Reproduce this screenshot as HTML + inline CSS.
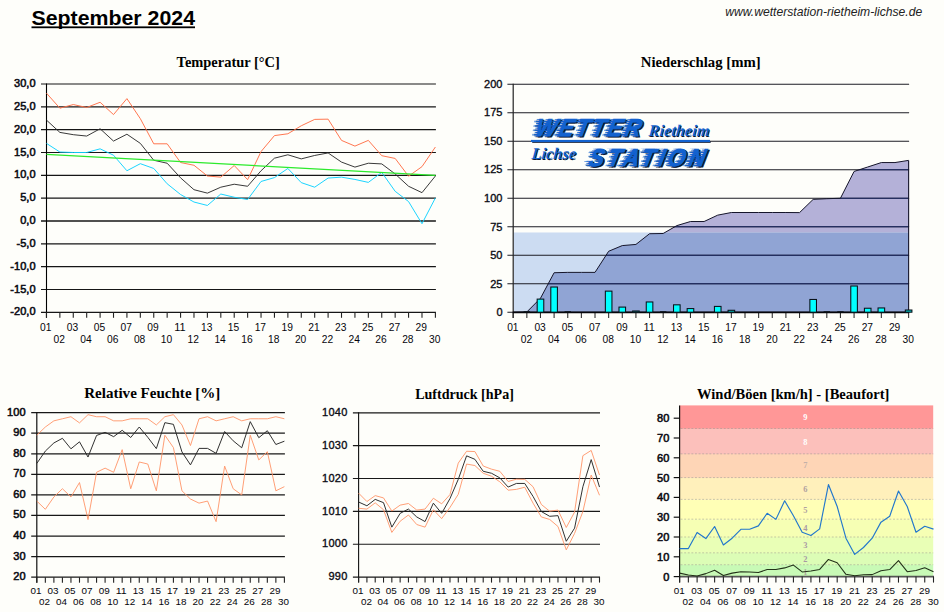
<!DOCTYPE html>
<html><head><meta charset="utf-8"><title>September 2024</title>
<style>html,body{margin:0;padding:0;background:#fefefa;overflow:hidden}svg{display:block}text{font-kerning:normal}</style>
</head><body>
<svg width="944" height="612" viewBox="0 0 944 612">
<rect width="944" height="612" fill="#fefefa"/>
<text x="31.5" y="24.5" font-family="'Liberation Sans', sans-serif" font-size="21" font-weight="bold" font-style="normal" text-anchor="start" fill="#000" textLength="163.5" lengthAdjust="spacingAndGlyphs" >September 2024</text>
<rect x="31.5" y="26.4" width="163.5" height="1.8" fill="#000"/>
<text x="725.2" y="15.6" font-family="'Liberation Sans', sans-serif" font-size="12" font-weight="normal" font-style="italic" text-anchor="start" fill="#222" textLength="197" lengthAdjust="spacingAndGlyphs" >www.wetterstation-rietheim-lichse.de</text>
<text x="176.6" y="66.9" font-family="'Liberation Serif', sans-serif" font-size="15.5" font-weight="bold" font-style="normal" text-anchor="start" fill="#000" textLength="103.2" lengthAdjust="spacingAndGlyphs" >Temperatur [°C]</text>
<text x="640.8" y="66.9" font-family="'Liberation Serif', sans-serif" font-size="15.5" font-weight="bold" font-style="normal" text-anchor="start" fill="#000" textLength="119.8" lengthAdjust="spacingAndGlyphs" >Niederschlag [mm]</text>
<text x="84.2" y="398.4" font-family="'Liberation Serif', sans-serif" font-size="15.5" font-weight="bold" font-style="normal" text-anchor="start" fill="#000" textLength="136.2" lengthAdjust="spacingAndGlyphs" >Relative Feuchte [%]</text>
<text x="415.2" y="399.2" font-family="'Liberation Serif', sans-serif" font-size="15.5" font-weight="bold" font-style="normal" text-anchor="start" fill="#000" textLength="98.7" lengthAdjust="spacingAndGlyphs" >Luftdruck [hPa]</text>
<text x="697" y="399.2" font-family="'Liberation Serif', sans-serif" font-size="15.5" font-weight="bold" font-style="normal" text-anchor="start" fill="#000" textLength="192.4" lengthAdjust="spacingAndGlyphs" >Wind/Böen [km/h] - [Beaufort]</text>
<line x1="41" y1="84" x2="435.9" y2="84" stroke="#161616" stroke-width="1.15"/>
<text x="35.6" y="87.1" font-family="'Liberation Sans', sans-serif" font-size="11" font-weight="normal" font-style="normal" text-anchor="end" fill="#0c0c14" stroke="#0c0c14" stroke-width="0.55" style="letter-spacing:0.05px">30,0</text>
<line x1="41" y1="106.83" x2="435.9" y2="106.83" stroke="#161616" stroke-width="1.15"/>
<text x="35.6" y="109.93" font-family="'Liberation Sans', sans-serif" font-size="11" font-weight="normal" font-style="normal" text-anchor="end" fill="#0c0c14" stroke="#0c0c14" stroke-width="0.55" style="letter-spacing:0.05px">25,0</text>
<line x1="41" y1="129.66" x2="435.9" y2="129.66" stroke="#161616" stroke-width="1.15"/>
<text x="35.6" y="132.76" font-family="'Liberation Sans', sans-serif" font-size="11" font-weight="normal" font-style="normal" text-anchor="end" fill="#0c0c14" stroke="#0c0c14" stroke-width="0.55" style="letter-spacing:0.05px">20,0</text>
<line x1="41" y1="152.49" x2="435.9" y2="152.49" stroke="#161616" stroke-width="1.15"/>
<text x="35.6" y="155.59" font-family="'Liberation Sans', sans-serif" font-size="11" font-weight="normal" font-style="normal" text-anchor="end" fill="#0c0c14" stroke="#0c0c14" stroke-width="0.55" style="letter-spacing:0.05px">15,0</text>
<line x1="41" y1="175.32" x2="435.9" y2="175.32" stroke="#161616" stroke-width="1.15"/>
<text x="35.6" y="178.42" font-family="'Liberation Sans', sans-serif" font-size="11" font-weight="normal" font-style="normal" text-anchor="end" fill="#0c0c14" stroke="#0c0c14" stroke-width="0.55" style="letter-spacing:0.05px">10,0</text>
<line x1="41" y1="198.15" x2="435.9" y2="198.15" stroke="#161616" stroke-width="1.15"/>
<text x="35.6" y="201.25" font-family="'Liberation Sans', sans-serif" font-size="11" font-weight="normal" font-style="normal" text-anchor="end" fill="#0c0c14" stroke="#0c0c14" stroke-width="0.55" style="letter-spacing:0.05px">5,0</text>
<line x1="41" y1="220.98" x2="435.9" y2="220.98" stroke="#161616" stroke-width="1.6"/>
<text x="35.6" y="224.08" font-family="'Liberation Sans', sans-serif" font-size="11" font-weight="normal" font-style="normal" text-anchor="end" fill="#0c0c14" stroke="#0c0c14" stroke-width="0.55" style="letter-spacing:0.05px">0,0</text>
<line x1="41" y1="243.81" x2="435.9" y2="243.81" stroke="#161616" stroke-width="1.15"/>
<text x="35.6" y="246.91" font-family="'Liberation Sans', sans-serif" font-size="11" font-weight="normal" font-style="normal" text-anchor="end" fill="#0c0c14" stroke="#0c0c14" stroke-width="0.55" style="letter-spacing:0.05px">-5,0</text>
<line x1="41" y1="266.64" x2="435.9" y2="266.64" stroke="#161616" stroke-width="1.15"/>
<text x="35.6" y="269.74" font-family="'Liberation Sans', sans-serif" font-size="11" font-weight="normal" font-style="normal" text-anchor="end" fill="#0c0c14" stroke="#0c0c14" stroke-width="0.55" style="letter-spacing:0.05px">-10,0</text>
<line x1="41" y1="289.47" x2="435.9" y2="289.47" stroke="#161616" stroke-width="1.15"/>
<text x="35.6" y="292.57" font-family="'Liberation Sans', sans-serif" font-size="11" font-weight="normal" font-style="normal" text-anchor="end" fill="#0c0c14" stroke="#0c0c14" stroke-width="0.55" style="letter-spacing:0.05px">-15,0</text>
<line x1="41" y1="312.3" x2="435.9" y2="312.3" stroke="#161616" stroke-width="1.15"/>
<text x="35.6" y="315.4" font-family="'Liberation Sans', sans-serif" font-size="11" font-weight="normal" font-style="normal" text-anchor="end" fill="#0c0c14" stroke="#0c0c14" stroke-width="0.55" style="letter-spacing:0.05px">-20,0</text>
<line x1="46.5" y1="83.5" x2="46.5" y2="317.8" stroke="#000" stroke-width="1.1"/>
<line x1="46.45" y1="312.3" x2="46.45" y2="317.8" stroke="#222" stroke-width="1.1"/>
<line x1="59.86" y1="312.3" x2="59.86" y2="317.8" stroke="#222" stroke-width="1.1"/>
<line x1="73.27" y1="312.3" x2="73.27" y2="317.8" stroke="#222" stroke-width="1.1"/>
<line x1="86.69" y1="312.3" x2="86.69" y2="317.8" stroke="#222" stroke-width="1.1"/>
<line x1="100.1" y1="312.3" x2="100.1" y2="317.8" stroke="#222" stroke-width="1.1"/>
<line x1="113.51" y1="312.3" x2="113.51" y2="317.8" stroke="#222" stroke-width="1.1"/>
<line x1="126.92" y1="312.3" x2="126.92" y2="317.8" stroke="#222" stroke-width="1.1"/>
<line x1="140.33" y1="312.3" x2="140.33" y2="317.8" stroke="#222" stroke-width="1.1"/>
<line x1="153.75" y1="312.3" x2="153.75" y2="317.8" stroke="#222" stroke-width="1.1"/>
<line x1="167.16" y1="312.3" x2="167.16" y2="317.8" stroke="#222" stroke-width="1.1"/>
<line x1="180.57" y1="312.3" x2="180.57" y2="317.8" stroke="#222" stroke-width="1.1"/>
<line x1="193.98" y1="312.3" x2="193.98" y2="317.8" stroke="#222" stroke-width="1.1"/>
<line x1="207.39" y1="312.3" x2="207.39" y2="317.8" stroke="#222" stroke-width="1.1"/>
<line x1="220.81" y1="312.3" x2="220.81" y2="317.8" stroke="#222" stroke-width="1.1"/>
<line x1="234.22" y1="312.3" x2="234.22" y2="317.8" stroke="#222" stroke-width="1.1"/>
<line x1="247.63" y1="312.3" x2="247.63" y2="317.8" stroke="#222" stroke-width="1.1"/>
<line x1="261.04" y1="312.3" x2="261.04" y2="317.8" stroke="#222" stroke-width="1.1"/>
<line x1="274.45" y1="312.3" x2="274.45" y2="317.8" stroke="#222" stroke-width="1.1"/>
<line x1="287.87" y1="312.3" x2="287.87" y2="317.8" stroke="#222" stroke-width="1.1"/>
<line x1="301.28" y1="312.3" x2="301.28" y2="317.8" stroke="#222" stroke-width="1.1"/>
<line x1="314.69" y1="312.3" x2="314.69" y2="317.8" stroke="#222" stroke-width="1.1"/>
<line x1="328.1" y1="312.3" x2="328.1" y2="317.8" stroke="#222" stroke-width="1.1"/>
<line x1="341.51" y1="312.3" x2="341.51" y2="317.8" stroke="#222" stroke-width="1.1"/>
<line x1="354.93" y1="312.3" x2="354.93" y2="317.8" stroke="#222" stroke-width="1.1"/>
<line x1="368.34" y1="312.3" x2="368.34" y2="317.8" stroke="#222" stroke-width="1.1"/>
<line x1="381.75" y1="312.3" x2="381.75" y2="317.8" stroke="#222" stroke-width="1.1"/>
<line x1="395.16" y1="312.3" x2="395.16" y2="317.8" stroke="#222" stroke-width="1.1"/>
<line x1="408.57" y1="312.3" x2="408.57" y2="317.8" stroke="#222" stroke-width="1.1"/>
<line x1="421.99" y1="312.3" x2="421.99" y2="317.8" stroke="#222" stroke-width="1.1"/>
<line x1="435.4" y1="312.3" x2="435.4" y2="317.8" stroke="#222" stroke-width="1.1"/>
<text x="45.75" y="331" font-family="'Liberation Sans', sans-serif" font-size="11" font-weight="normal" font-style="normal" text-anchor="middle" fill="#05050c" textLength="11.4" lengthAdjust="spacingAndGlyphs" >01</text>
<text x="59.16" y="343.3" font-family="'Liberation Sans', sans-serif" font-size="11" font-weight="normal" font-style="normal" text-anchor="middle" fill="#05050c" textLength="11.4" lengthAdjust="spacingAndGlyphs" >02</text>
<text x="72.57" y="331" font-family="'Liberation Sans', sans-serif" font-size="11" font-weight="normal" font-style="normal" text-anchor="middle" fill="#05050c" textLength="11.4" lengthAdjust="spacingAndGlyphs" >03</text>
<text x="85.99" y="343.3" font-family="'Liberation Sans', sans-serif" font-size="11" font-weight="normal" font-style="normal" text-anchor="middle" fill="#05050c" textLength="11.4" lengthAdjust="spacingAndGlyphs" >04</text>
<text x="99.4" y="331" font-family="'Liberation Sans', sans-serif" font-size="11" font-weight="normal" font-style="normal" text-anchor="middle" fill="#05050c" textLength="11.4" lengthAdjust="spacingAndGlyphs" >05</text>
<text x="112.81" y="343.3" font-family="'Liberation Sans', sans-serif" font-size="11" font-weight="normal" font-style="normal" text-anchor="middle" fill="#05050c" textLength="11.4" lengthAdjust="spacingAndGlyphs" >06</text>
<text x="126.22" y="331" font-family="'Liberation Sans', sans-serif" font-size="11" font-weight="normal" font-style="normal" text-anchor="middle" fill="#05050c" textLength="11.4" lengthAdjust="spacingAndGlyphs" >07</text>
<text x="139.63" y="343.3" font-family="'Liberation Sans', sans-serif" font-size="11" font-weight="normal" font-style="normal" text-anchor="middle" fill="#05050c" textLength="11.4" lengthAdjust="spacingAndGlyphs" >08</text>
<text x="153.05" y="331" font-family="'Liberation Sans', sans-serif" font-size="11" font-weight="normal" font-style="normal" text-anchor="middle" fill="#05050c" textLength="11.4" lengthAdjust="spacingAndGlyphs" >09</text>
<text x="166.46" y="343.3" font-family="'Liberation Sans', sans-serif" font-size="11" font-weight="normal" font-style="normal" text-anchor="middle" fill="#05050c" textLength="11.4" lengthAdjust="spacingAndGlyphs" >10</text>
<text x="179.87" y="331" font-family="'Liberation Sans', sans-serif" font-size="11" font-weight="normal" font-style="normal" text-anchor="middle" fill="#05050c" textLength="11.4" lengthAdjust="spacingAndGlyphs" >11</text>
<text x="193.28" y="343.3" font-family="'Liberation Sans', sans-serif" font-size="11" font-weight="normal" font-style="normal" text-anchor="middle" fill="#05050c" textLength="11.4" lengthAdjust="spacingAndGlyphs" >12</text>
<text x="206.69" y="331" font-family="'Liberation Sans', sans-serif" font-size="11" font-weight="normal" font-style="normal" text-anchor="middle" fill="#05050c" textLength="11.4" lengthAdjust="spacingAndGlyphs" >13</text>
<text x="220.11" y="343.3" font-family="'Liberation Sans', sans-serif" font-size="11" font-weight="normal" font-style="normal" text-anchor="middle" fill="#05050c" textLength="11.4" lengthAdjust="spacingAndGlyphs" >14</text>
<text x="233.52" y="331" font-family="'Liberation Sans', sans-serif" font-size="11" font-weight="normal" font-style="normal" text-anchor="middle" fill="#05050c" textLength="11.4" lengthAdjust="spacingAndGlyphs" >15</text>
<text x="246.93" y="343.3" font-family="'Liberation Sans', sans-serif" font-size="11" font-weight="normal" font-style="normal" text-anchor="middle" fill="#05050c" textLength="11.4" lengthAdjust="spacingAndGlyphs" >16</text>
<text x="260.34" y="331" font-family="'Liberation Sans', sans-serif" font-size="11" font-weight="normal" font-style="normal" text-anchor="middle" fill="#05050c" textLength="11.4" lengthAdjust="spacingAndGlyphs" >17</text>
<text x="273.75" y="343.3" font-family="'Liberation Sans', sans-serif" font-size="11" font-weight="normal" font-style="normal" text-anchor="middle" fill="#05050c" textLength="11.4" lengthAdjust="spacingAndGlyphs" >18</text>
<text x="287.17" y="331" font-family="'Liberation Sans', sans-serif" font-size="11" font-weight="normal" font-style="normal" text-anchor="middle" fill="#05050c" textLength="11.4" lengthAdjust="spacingAndGlyphs" >19</text>
<text x="300.58" y="343.3" font-family="'Liberation Sans', sans-serif" font-size="11" font-weight="normal" font-style="normal" text-anchor="middle" fill="#05050c" textLength="11.4" lengthAdjust="spacingAndGlyphs" >20</text>
<text x="313.99" y="331" font-family="'Liberation Sans', sans-serif" font-size="11" font-weight="normal" font-style="normal" text-anchor="middle" fill="#05050c" textLength="11.4" lengthAdjust="spacingAndGlyphs" >21</text>
<text x="327.4" y="343.3" font-family="'Liberation Sans', sans-serif" font-size="11" font-weight="normal" font-style="normal" text-anchor="middle" fill="#05050c" textLength="11.4" lengthAdjust="spacingAndGlyphs" >22</text>
<text x="340.81" y="331" font-family="'Liberation Sans', sans-serif" font-size="11" font-weight="normal" font-style="normal" text-anchor="middle" fill="#05050c" textLength="11.4" lengthAdjust="spacingAndGlyphs" >23</text>
<text x="354.23" y="343.3" font-family="'Liberation Sans', sans-serif" font-size="11" font-weight="normal" font-style="normal" text-anchor="middle" fill="#05050c" textLength="11.4" lengthAdjust="spacingAndGlyphs" >24</text>
<text x="367.64" y="331" font-family="'Liberation Sans', sans-serif" font-size="11" font-weight="normal" font-style="normal" text-anchor="middle" fill="#05050c" textLength="11.4" lengthAdjust="spacingAndGlyphs" >25</text>
<text x="381.05" y="343.3" font-family="'Liberation Sans', sans-serif" font-size="11" font-weight="normal" font-style="normal" text-anchor="middle" fill="#05050c" textLength="11.4" lengthAdjust="spacingAndGlyphs" >26</text>
<text x="394.46" y="331" font-family="'Liberation Sans', sans-serif" font-size="11" font-weight="normal" font-style="normal" text-anchor="middle" fill="#05050c" textLength="11.4" lengthAdjust="spacingAndGlyphs" >27</text>
<text x="407.87" y="343.3" font-family="'Liberation Sans', sans-serif" font-size="11" font-weight="normal" font-style="normal" text-anchor="middle" fill="#05050c" textLength="11.4" lengthAdjust="spacingAndGlyphs" >28</text>
<text x="421.29" y="331" font-family="'Liberation Sans', sans-serif" font-size="11" font-weight="normal" font-style="normal" text-anchor="middle" fill="#05050c" textLength="11.4" lengthAdjust="spacingAndGlyphs" >29</text>
<text x="434.7" y="343.3" font-family="'Liberation Sans', sans-serif" font-size="11" font-weight="normal" font-style="normal" text-anchor="middle" fill="#05050c" textLength="11.4" lengthAdjust="spacingAndGlyphs" >30</text>
<polyline points="46.45,93.13 59.86,108.2 73.27,104.55 86.69,107.51 100.1,102.26 113.51,114.59 126.92,98.61 140.33,118.7 153.75,143.81 167.16,143.81 180.57,162.54 193.98,165.27 207.39,176 220.81,177.15 234.22,165.5 247.63,179.66 261.04,151.58 274.45,135.6 287.87,133.77 301.28,125.78 314.69,119.39 328.1,119.16 341.51,140.39 354.93,146.1 368.34,140.39 381.75,155.69 395.16,158.43 408.57,176.23 421.99,166.64 435.4,147.01" fill="none" stroke="#ff7048" stroke-width="0.95" stroke-linejoin="round" />
<polyline points="46.45,143.36 59.86,152.03 73.27,152.49 86.69,152.49 100.1,148.84 113.51,155.23 126.92,170.75 140.33,163.68 153.75,168.47 167.16,183.77 180.57,194.5 193.98,202.03 207.39,205.46 220.81,194.04 234.22,197.24 247.63,199.52 261.04,181.48 274.45,177.6 287.87,168.47 301.28,182.63 314.69,187.19 328.1,178.06 341.51,177.15 354.93,179.43 368.34,182.4 381.75,172.35 395.16,191.3 408.57,201.57 421.99,223.72 435.4,197.92" fill="none" stroke="#10d2ff" stroke-width="0.95" stroke-linejoin="round" />
<polyline points="46.45,120.07 59.86,132.4 73.27,134.68 86.69,136.05 100.1,128.75 113.51,141.07 126.92,134.23 140.33,143.36 153.75,160.25 167.16,163.22 180.57,177.83 193.98,189.7 207.39,193.13 220.81,187.19 234.22,184.22 247.63,186.28 261.04,170.75 274.45,158.2 287.87,154.77 301.28,158.88 314.69,155.46 328.1,152.95 341.51,162.08 354.93,167.1 368.34,163.22 381.75,163.91 395.16,173.95 408.57,186.28 421.99,192.67 435.4,176" fill="none" stroke="#2e2e2e" stroke-width="0.95" stroke-linejoin="round" />
<line x1="46.45" y1="154.32" x2="435.4" y2="175.32" stroke="#2cea2c" stroke-width="1.2"/>
<rect x="513.6" y="232.47" width="395.01" height="79.84" fill="#ccdcf2"/>
<clipPath id="cb"><rect x="500" y="232.47" width="420" height="100"/></clipPath>
<clipPath id="ca"><rect x="500" y="60" width="420" height="172.47"/></clipPath>
<polygon points="513.2,312.3 513.2,312.3 526.84,311.96 540.47,298.27 554.11,272.72 567.74,272.38 581.38,272.38 595.01,272.38 608.64,251.28 622.28,245.58 635.92,244.44 649.55,233.72 663.19,233.49 676.82,225.62 690.46,221.52 704.09,221.52 717.73,215.13 731.36,212.51 745,212.51 758.63,212.51 772.27,212.51 785.9,212.51 799.54,212.62 813.17,199.39 826.81,198.71 840.44,198.25 854.08,171.45 867.71,167 881.35,162.55 894.98,162.55 908.62,160.39 908.62,312.3" fill="#b4b1d8" clip-path="url(#ca)"/>
<polygon points="513.2,312.3 513.2,312.3 526.84,311.96 540.47,298.27 554.11,272.72 567.74,272.38 581.38,272.38 595.01,272.38 608.64,251.28 622.28,245.58 635.92,244.44 649.55,233.72 663.19,233.49 676.82,225.62 690.46,221.52 704.09,221.52 717.73,215.13 731.36,212.51 745,212.51 758.63,212.51 772.27,212.51 785.9,212.51 799.54,212.62 813.17,199.39 826.81,198.71 840.44,198.25 854.08,171.45 867.71,167 881.35,162.55 894.98,162.55 908.62,160.39 908.62,312.3" fill="#90a4d4" clip-path="url(#cb)"/>
<line x1="507.4" y1="312.3" x2="909.12" y2="312.3" stroke="#1c1c24" stroke-width="1.1"/>
<text x="502.6" y="316.05" font-family="'Liberation Sans', sans-serif" font-size="11" font-weight="normal" font-style="normal" text-anchor="end" fill="#0c0c14" stroke="#0c0c14" stroke-width="0.35" style="letter-spacing:0.1px">0</text>
<line x1="507.4" y1="283.79" x2="909.12" y2="283.79" stroke="#1c1c24" stroke-width="1.1"/>
<text x="502.6" y="287.54" font-family="'Liberation Sans', sans-serif" font-size="11" font-weight="normal" font-style="normal" text-anchor="end" fill="#0c0c14" stroke="#0c0c14" stroke-width="0.35" style="letter-spacing:0.1px">25</text>
<line x1="507.4" y1="255.28" x2="909.12" y2="255.28" stroke="#1c1c24" stroke-width="1.1"/>
<text x="502.6" y="259.02" font-family="'Liberation Sans', sans-serif" font-size="11" font-weight="normal" font-style="normal" text-anchor="end" fill="#0c0c14" stroke="#0c0c14" stroke-width="0.35" style="letter-spacing:0.1px">50</text>
<line x1="507.4" y1="226.76" x2="909.12" y2="226.76" stroke="#1c1c24" stroke-width="1.1"/>
<text x="502.6" y="230.51" font-family="'Liberation Sans', sans-serif" font-size="11" font-weight="normal" font-style="normal" text-anchor="end" fill="#0c0c14" stroke="#0c0c14" stroke-width="0.35" style="letter-spacing:0.1px">75</text>
<line x1="507.4" y1="198.25" x2="909.12" y2="198.25" stroke="#1c1c24" stroke-width="1.1"/>
<text x="502.6" y="202" font-family="'Liberation Sans', sans-serif" font-size="11" font-weight="normal" font-style="normal" text-anchor="end" fill="#0c0c14" stroke="#0c0c14" stroke-width="0.35" style="letter-spacing:0.1px">100</text>
<line x1="507.4" y1="169.74" x2="909.12" y2="169.74" stroke="#1c1c24" stroke-width="1.1"/>
<text x="502.6" y="173.49" font-family="'Liberation Sans', sans-serif" font-size="11" font-weight="normal" font-style="normal" text-anchor="end" fill="#0c0c14" stroke="#0c0c14" stroke-width="0.35" style="letter-spacing:0.1px">125</text>
<line x1="507.4" y1="141.23" x2="909.12" y2="141.23" stroke="#1c1c24" stroke-width="1.1"/>
<text x="502.6" y="144.98" font-family="'Liberation Sans', sans-serif" font-size="11" font-weight="normal" font-style="normal" text-anchor="end" fill="#0c0c14" stroke="#0c0c14" stroke-width="0.35" style="letter-spacing:0.1px">150</text>
<line x1="507.4" y1="112.71" x2="909.12" y2="112.71" stroke="#1c1c24" stroke-width="1.1"/>
<text x="502.6" y="116.46" font-family="'Liberation Sans', sans-serif" font-size="11" font-weight="normal" font-style="normal" text-anchor="end" fill="#0c0c14" stroke="#0c0c14" stroke-width="0.35" style="letter-spacing:0.1px">175</text>
<line x1="507.4" y1="84.2" x2="909.12" y2="84.2" stroke="#1c1c24" stroke-width="1.1"/>
<text x="502.6" y="87.95" font-family="'Liberation Sans', sans-serif" font-size="11" font-weight="normal" font-style="normal" text-anchor="end" fill="#0c0c14" stroke="#0c0c14" stroke-width="0.35" style="letter-spacing:0.1px">200</text>
<clipPath id="cp"><polygon points="513.2,312.3 513.2,312.3 526.84,311.96 540.47,298.27 554.11,272.72 567.74,272.38 581.38,272.38 595.01,272.38 608.64,251.28 622.28,245.58 635.92,244.44 649.55,233.72 663.19,233.49 676.82,225.62 690.46,221.52 704.09,221.52 717.73,215.13 731.36,212.51 745,212.51 758.63,212.51 772.27,212.51 785.9,212.51 799.54,212.62 813.17,199.39 826.81,198.71 840.44,198.25 854.08,171.45 867.71,167 881.35,162.55 894.98,162.55 908.62,160.39 908.62,312.3"/></clipPath>
<g clip-path="url(#cp)">
<line x1="513.2" y1="283.79" x2="908.62" y2="283.79" stroke="#1c2a66" stroke-width="1.15"/>
<line x1="513.2" y1="255.28" x2="908.62" y2="255.28" stroke="#1c2a66" stroke-width="1.15"/>
<line x1="513.2" y1="226.76" x2="908.62" y2="226.76" stroke="#1c2a66" stroke-width="1.15"/>
<line x1="513.2" y1="198.25" x2="908.62" y2="198.25" stroke="#1c2a66" stroke-width="1.15"/>
<line x1="513.2" y1="169.74" x2="908.62" y2="169.74" stroke="#1c2a66" stroke-width="1.15"/>
</g>
<polyline points="513.2,312.3 526.84,311.96 540.47,298.27 554.11,272.72 567.74,272.38 581.38,272.38 595.01,272.38 608.64,251.28 622.28,245.58 635.92,244.44 649.55,233.72 663.19,233.49 676.82,225.62 690.46,221.52 704.09,221.52 717.73,215.13 731.36,212.51 745,212.51 758.63,212.51 772.27,212.51 785.9,212.51 799.54,212.62 813.17,199.39 826.81,198.71 840.44,198.25 854.08,171.45 867.71,167 881.35,162.55 894.98,162.55 908.62,160.39" fill="none" stroke="#15152a" stroke-width="1.0" stroke-linejoin="round" />
<line x1="908.62" y1="160.39" x2="908.62" y2="312.3" stroke="#15152a" stroke-width="1.1"/>
<line x1="513.2" y1="83.7" x2="513.2" y2="317.9" stroke="#222" stroke-width="1.2"/>
<line x1="513.2" y1="312.3" x2="513.2" y2="318" stroke="#333" stroke-width="1.1"/>
<line x1="526.84" y1="312.3" x2="526.84" y2="318" stroke="#333" stroke-width="1.1"/>
<line x1="540.47" y1="312.3" x2="540.47" y2="318" stroke="#333" stroke-width="1.1"/>
<line x1="554.11" y1="312.3" x2="554.11" y2="318" stroke="#333" stroke-width="1.1"/>
<line x1="567.74" y1="312.3" x2="567.74" y2="318" stroke="#333" stroke-width="1.1"/>
<line x1="581.38" y1="312.3" x2="581.38" y2="318" stroke="#333" stroke-width="1.1"/>
<line x1="595.01" y1="312.3" x2="595.01" y2="318" stroke="#333" stroke-width="1.1"/>
<line x1="608.64" y1="312.3" x2="608.64" y2="318" stroke="#333" stroke-width="1.1"/>
<line x1="622.28" y1="312.3" x2="622.28" y2="318" stroke="#333" stroke-width="1.1"/>
<line x1="635.92" y1="312.3" x2="635.92" y2="318" stroke="#333" stroke-width="1.1"/>
<line x1="649.55" y1="312.3" x2="649.55" y2="318" stroke="#333" stroke-width="1.1"/>
<line x1="663.19" y1="312.3" x2="663.19" y2="318" stroke="#333" stroke-width="1.1"/>
<line x1="676.82" y1="312.3" x2="676.82" y2="318" stroke="#333" stroke-width="1.1"/>
<line x1="690.46" y1="312.3" x2="690.46" y2="318" stroke="#333" stroke-width="1.1"/>
<line x1="704.09" y1="312.3" x2="704.09" y2="318" stroke="#333" stroke-width="1.1"/>
<line x1="717.73" y1="312.3" x2="717.73" y2="318" stroke="#333" stroke-width="1.1"/>
<line x1="731.36" y1="312.3" x2="731.36" y2="318" stroke="#333" stroke-width="1.1"/>
<line x1="745" y1="312.3" x2="745" y2="318" stroke="#333" stroke-width="1.1"/>
<line x1="758.63" y1="312.3" x2="758.63" y2="318" stroke="#333" stroke-width="1.1"/>
<line x1="772.27" y1="312.3" x2="772.27" y2="318" stroke="#333" stroke-width="1.1"/>
<line x1="785.9" y1="312.3" x2="785.9" y2="318" stroke="#333" stroke-width="1.1"/>
<line x1="799.54" y1="312.3" x2="799.54" y2="318" stroke="#333" stroke-width="1.1"/>
<line x1="813.17" y1="312.3" x2="813.17" y2="318" stroke="#333" stroke-width="1.1"/>
<line x1="826.81" y1="312.3" x2="826.81" y2="318" stroke="#333" stroke-width="1.1"/>
<line x1="840.44" y1="312.3" x2="840.44" y2="318" stroke="#333" stroke-width="1.1"/>
<line x1="854.08" y1="312.3" x2="854.08" y2="318" stroke="#333" stroke-width="1.1"/>
<line x1="867.71" y1="312.3" x2="867.71" y2="318" stroke="#333" stroke-width="1.1"/>
<line x1="881.35" y1="312.3" x2="881.35" y2="318" stroke="#333" stroke-width="1.1"/>
<line x1="894.98" y1="312.3" x2="894.98" y2="318" stroke="#333" stroke-width="1.1"/>
<line x1="908.62" y1="312.3" x2="908.62" y2="318" stroke="#333" stroke-width="1.1"/>
<line x1="512.7" y1="312.4" x2="909.22" y2="312.4" stroke="#05050a" stroke-width="1.7"/>
<rect x="523.63" y="311.1" width="6.4" height="1.2" fill="#101820"/>
<rect x="537.17" y="299.11" width="6.6" height="13.09" fill="#00ffff" stroke="#081018" stroke-width="1.05"/>
<rect x="550.81" y="287.02" width="6.6" height="25.18" fill="#00ffff" stroke="#081018" stroke-width="1.05"/>
<rect x="564.54" y="311.1" width="6.4" height="1.2" fill="#101820"/>
<rect x="605.35" y="291.13" width="6.6" height="21.07" fill="#00ffff" stroke="#081018" stroke-width="1.05"/>
<rect x="618.98" y="307.1" width="6.6" height="5.1" fill="#00ffff" stroke="#081018" stroke-width="1.05"/>
<rect x="632.62" y="310.98" width="6.6" height="1.22" fill="#00c4c4" stroke="#081018" stroke-width="1.05"/>
<rect x="646.25" y="301.97" width="6.6" height="10.23" fill="#00ffff" stroke="#081018" stroke-width="1.05"/>
<rect x="659.99" y="311.1" width="6.4" height="1.2" fill="#101820"/>
<rect x="673.52" y="304.82" width="6.6" height="7.38" fill="#00ffff" stroke="#081018" stroke-width="1.05"/>
<rect x="687.16" y="308.58" width="6.6" height="3.62" fill="#00ffff" stroke="#081018" stroke-width="1.05"/>
<rect x="714.43" y="306.41" width="6.6" height="5.79" fill="#00ffff" stroke="#081018" stroke-width="1.05"/>
<rect x="728.06" y="310.29" width="6.6" height="1.91" fill="#00c4c4" stroke="#081018" stroke-width="1.05"/>
<rect x="809.87" y="299.46" width="6.6" height="12.74" fill="#00ffff" stroke="#081018" stroke-width="1.05"/>
<rect x="823.61" y="311.1" width="6.4" height="1.2" fill="#101820"/>
<rect x="837.24" y="311.1" width="6.4" height="1.2" fill="#101820"/>
<rect x="850.78" y="286" width="6.6" height="26.2" fill="#00ffff" stroke="#081018" stroke-width="1.05"/>
<rect x="864.41" y="308.24" width="6.6" height="3.96" fill="#00ffff" stroke="#081018" stroke-width="1.05"/>
<rect x="878.05" y="307.95" width="6.6" height="4.25" fill="#00ffff" stroke="#081018" stroke-width="1.05"/>
<rect x="905.32" y="310.01" width="6.6" height="2.19" fill="#00c4c4" stroke="#081018" stroke-width="1.05"/>
<text x="512.85" y="330.8" font-family="'Liberation Sans', sans-serif" font-size="11" font-weight="normal" font-style="normal" text-anchor="middle" fill="#05050c" textLength="11.4" lengthAdjust="spacingAndGlyphs" >01</text>
<text x="526.49" y="343.2" font-family="'Liberation Sans', sans-serif" font-size="11" font-weight="normal" font-style="normal" text-anchor="middle" fill="#05050c" textLength="11.4" lengthAdjust="spacingAndGlyphs" >02</text>
<text x="540.12" y="330.8" font-family="'Liberation Sans', sans-serif" font-size="11" font-weight="normal" font-style="normal" text-anchor="middle" fill="#05050c" textLength="11.4" lengthAdjust="spacingAndGlyphs" >03</text>
<text x="553.75" y="343.2" font-family="'Liberation Sans', sans-serif" font-size="11" font-weight="normal" font-style="normal" text-anchor="middle" fill="#05050c" textLength="11.4" lengthAdjust="spacingAndGlyphs" >04</text>
<text x="567.39" y="330.8" font-family="'Liberation Sans', sans-serif" font-size="11" font-weight="normal" font-style="normal" text-anchor="middle" fill="#05050c" textLength="11.4" lengthAdjust="spacingAndGlyphs" >05</text>
<text x="581.02" y="343.2" font-family="'Liberation Sans', sans-serif" font-size="11" font-weight="normal" font-style="normal" text-anchor="middle" fill="#05050c" textLength="11.4" lengthAdjust="spacingAndGlyphs" >06</text>
<text x="594.66" y="330.8" font-family="'Liberation Sans', sans-serif" font-size="11" font-weight="normal" font-style="normal" text-anchor="middle" fill="#05050c" textLength="11.4" lengthAdjust="spacingAndGlyphs" >07</text>
<text x="608.29" y="343.2" font-family="'Liberation Sans', sans-serif" font-size="11" font-weight="normal" font-style="normal" text-anchor="middle" fill="#05050c" textLength="11.4" lengthAdjust="spacingAndGlyphs" >08</text>
<text x="621.93" y="330.8" font-family="'Liberation Sans', sans-serif" font-size="11" font-weight="normal" font-style="normal" text-anchor="middle" fill="#05050c" textLength="11.4" lengthAdjust="spacingAndGlyphs" >09</text>
<text x="635.57" y="343.2" font-family="'Liberation Sans', sans-serif" font-size="11" font-weight="normal" font-style="normal" text-anchor="middle" fill="#05050c" textLength="11.4" lengthAdjust="spacingAndGlyphs" >10</text>
<text x="649.2" y="330.8" font-family="'Liberation Sans', sans-serif" font-size="11" font-weight="normal" font-style="normal" text-anchor="middle" fill="#05050c" textLength="11.4" lengthAdjust="spacingAndGlyphs" >11</text>
<text x="662.84" y="343.2" font-family="'Liberation Sans', sans-serif" font-size="11" font-weight="normal" font-style="normal" text-anchor="middle" fill="#05050c" textLength="11.4" lengthAdjust="spacingAndGlyphs" >12</text>
<text x="676.47" y="330.8" font-family="'Liberation Sans', sans-serif" font-size="11" font-weight="normal" font-style="normal" text-anchor="middle" fill="#05050c" textLength="11.4" lengthAdjust="spacingAndGlyphs" >13</text>
<text x="690.11" y="343.2" font-family="'Liberation Sans', sans-serif" font-size="11" font-weight="normal" font-style="normal" text-anchor="middle" fill="#05050c" textLength="11.4" lengthAdjust="spacingAndGlyphs" >14</text>
<text x="703.74" y="330.8" font-family="'Liberation Sans', sans-serif" font-size="11" font-weight="normal" font-style="normal" text-anchor="middle" fill="#05050c" textLength="11.4" lengthAdjust="spacingAndGlyphs" >15</text>
<text x="717.38" y="343.2" font-family="'Liberation Sans', sans-serif" font-size="11" font-weight="normal" font-style="normal" text-anchor="middle" fill="#05050c" textLength="11.4" lengthAdjust="spacingAndGlyphs" >16</text>
<text x="731.01" y="330.8" font-family="'Liberation Sans', sans-serif" font-size="11" font-weight="normal" font-style="normal" text-anchor="middle" fill="#05050c" textLength="11.4" lengthAdjust="spacingAndGlyphs" >17</text>
<text x="744.64" y="343.2" font-family="'Liberation Sans', sans-serif" font-size="11" font-weight="normal" font-style="normal" text-anchor="middle" fill="#05050c" textLength="11.4" lengthAdjust="spacingAndGlyphs" >18</text>
<text x="758.28" y="330.8" font-family="'Liberation Sans', sans-serif" font-size="11" font-weight="normal" font-style="normal" text-anchor="middle" fill="#05050c" textLength="11.4" lengthAdjust="spacingAndGlyphs" >19</text>
<text x="771.92" y="343.2" font-family="'Liberation Sans', sans-serif" font-size="11" font-weight="normal" font-style="normal" text-anchor="middle" fill="#05050c" textLength="11.4" lengthAdjust="spacingAndGlyphs" >20</text>
<text x="785.55" y="330.8" font-family="'Liberation Sans', sans-serif" font-size="11" font-weight="normal" font-style="normal" text-anchor="middle" fill="#05050c" textLength="11.4" lengthAdjust="spacingAndGlyphs" >21</text>
<text x="799.19" y="343.2" font-family="'Liberation Sans', sans-serif" font-size="11" font-weight="normal" font-style="normal" text-anchor="middle" fill="#05050c" textLength="11.4" lengthAdjust="spacingAndGlyphs" >22</text>
<text x="812.82" y="330.8" font-family="'Liberation Sans', sans-serif" font-size="11" font-weight="normal" font-style="normal" text-anchor="middle" fill="#05050c" textLength="11.4" lengthAdjust="spacingAndGlyphs" >23</text>
<text x="826.46" y="343.2" font-family="'Liberation Sans', sans-serif" font-size="11" font-weight="normal" font-style="normal" text-anchor="middle" fill="#05050c" textLength="11.4" lengthAdjust="spacingAndGlyphs" >24</text>
<text x="840.09" y="330.8" font-family="'Liberation Sans', sans-serif" font-size="11" font-weight="normal" font-style="normal" text-anchor="middle" fill="#05050c" textLength="11.4" lengthAdjust="spacingAndGlyphs" >25</text>
<text x="853.73" y="343.2" font-family="'Liberation Sans', sans-serif" font-size="11" font-weight="normal" font-style="normal" text-anchor="middle" fill="#05050c" textLength="11.4" lengthAdjust="spacingAndGlyphs" >26</text>
<text x="867.36" y="330.8" font-family="'Liberation Sans', sans-serif" font-size="11" font-weight="normal" font-style="normal" text-anchor="middle" fill="#05050c" textLength="11.4" lengthAdjust="spacingAndGlyphs" >27</text>
<text x="881" y="343.2" font-family="'Liberation Sans', sans-serif" font-size="11" font-weight="normal" font-style="normal" text-anchor="middle" fill="#05050c" textLength="11.4" lengthAdjust="spacingAndGlyphs" >28</text>
<text x="894.63" y="330.8" font-family="'Liberation Sans', sans-serif" font-size="11" font-weight="normal" font-style="normal" text-anchor="middle" fill="#05050c" textLength="11.4" lengthAdjust="spacingAndGlyphs" >29</text>
<text x="908.26" y="343.2" font-family="'Liberation Sans', sans-serif" font-size="11" font-weight="normal" font-style="normal" text-anchor="middle" fill="#05050c" textLength="11.4" lengthAdjust="spacingAndGlyphs" >30</text>
<defs>
<pattern id="st1" width="8" height="2.2" patternUnits="userSpaceOnUse"><rect width="8" height="1.0" fill="#fff"/></pattern>
<pattern id="st2" width="8" height="4.4" patternUnits="userSpaceOnUse"><rect y="2.2" width="8" height="1.0" fill="#fff"/></pattern>
<mask id="ms1" maskUnits="userSpaceOnUse" x="515" y="105" width="210" height="70"><rect x="515" y="105" width="210" height="70" fill="url(#st1)"/></mask>
<mask id="ms2" maskUnits="userSpaceOnUse" x="515" y="105" width="210" height="70"><rect x="515" y="105" width="210" height="70" fill="url(#st2)"/></mask>
</defs>
<g mask="url(#ms2)">
<text transform="translate(531.2,136.8) skewX(-12) scale(0.93,1)" font-family="'Liberation Sans', sans-serif" font-size="24.4" font-weight="bold" font-style="italic" fill="#081430" stroke="#081430" stroke-width="0.9" stroke-linejoin="miter" textLength="113.55" lengthAdjust="spacing">WETTER</text>
<text transform="translate(584.8,166.7) skewX(-12) scale(0.93,1)" font-family="'Liberation Sans', sans-serif" font-size="24.4" font-weight="bold" font-style="italic" fill="#081430" stroke="#081430" stroke-width="0.9" stroke-linejoin="miter" textLength="124.95" lengthAdjust="spacing">STATION</text>
</g>
<g mask="url(#ms1)">
<text transform="translate(533.3,136.8) skewX(-12) scale(0.93,1)" font-family="'Liberation Sans', sans-serif" font-size="24.4" font-weight="bold" font-style="italic" fill="#081430" stroke="#081430" stroke-width="0.9" stroke-linejoin="miter" textLength="113.55" lengthAdjust="spacing">WETTER</text>
<text transform="translate(586.9,166.7) skewX(-12) scale(0.93,1)" font-family="'Liberation Sans', sans-serif" font-size="24.4" font-weight="bold" font-style="italic" fill="#081430" stroke="#081430" stroke-width="0.9" stroke-linejoin="miter" textLength="124.95" lengthAdjust="spacing">STATION</text>
</g>
<text transform="translate(535.6,136.8) skewX(-12) scale(0.93,1)" font-family="'Liberation Sans', sans-serif" font-size="24.4" font-weight="bold" font-style="italic" fill="#081430" stroke="#081430" stroke-width="0.9" stroke-linejoin="miter" textLength="113.55" lengthAdjust="spacing">WETTER</text>
<text transform="translate(589.2,166.7) skewX(-12) scale(0.93,1)" font-family="'Liberation Sans', sans-serif" font-size="24.4" font-weight="bold" font-style="italic" fill="#081430" stroke="#081430" stroke-width="0.9" stroke-linejoin="miter" textLength="124.95" lengthAdjust="spacing">STATION</text>
<g mask="url(#ms2)">
<text transform="translate(529.8,135.7) skewX(-12) scale(0.93,1)" font-family="'Liberation Sans', sans-serif" font-size="24.4" font-weight="bold" font-style="italic" fill="#1262cf" stroke="#1262cf" stroke-width="0.9" stroke-linejoin="miter" textLength="113.55" lengthAdjust="spacing">WETTER</text>
<text transform="translate(583.4,165.6) skewX(-12) scale(0.93,1)" font-family="'Liberation Sans', sans-serif" font-size="24.4" font-weight="bold" font-style="italic" fill="#1262cf" stroke="#1262cf" stroke-width="0.9" stroke-linejoin="miter" textLength="124.95" lengthAdjust="spacing">STATION</text>
</g>
<g mask="url(#ms1)">
<text transform="translate(531.9,135.7) skewX(-12) scale(0.93,1)" font-family="'Liberation Sans', sans-serif" font-size="24.4" font-weight="bold" font-style="italic" fill="#1262cf" stroke="#1262cf" stroke-width="0.9" stroke-linejoin="miter" textLength="113.55" lengthAdjust="spacing">WETTER</text>
<text transform="translate(585.5,165.6) skewX(-12) scale(0.93,1)" font-family="'Liberation Sans', sans-serif" font-size="24.4" font-weight="bold" font-style="italic" fill="#1262cf" stroke="#1262cf" stroke-width="0.9" stroke-linejoin="miter" textLength="124.95" lengthAdjust="spacing">STATION</text>
</g>
<text transform="translate(534.2,135.7) skewX(-12) scale(0.93,1)" font-family="'Liberation Sans', sans-serif" font-size="24.4" font-weight="bold" font-style="italic" fill="#1262cf" stroke="#1262cf" stroke-width="0.9" stroke-linejoin="miter" textLength="113.55" lengthAdjust="spacing">WETTER</text>
<text transform="translate(587.8,165.6) skewX(-12) scale(0.93,1)" font-family="'Liberation Sans', sans-serif" font-size="24.4" font-weight="bold" font-style="italic" fill="#1262cf" stroke="#1262cf" stroke-width="0.9" stroke-linejoin="miter" textLength="124.95" lengthAdjust="spacing">STATION</text>
<text transform="translate(648.9,136.6) skewX(-5)" font-family="'Liberation Serif', serif" font-size="16.4" font-weight="bold" font-style="italic" fill="#081430" textLength="61" lengthAdjust="spacingAndGlyphs">Rietheim</text>
<text transform="translate(531.9,160) skewX(-5)" font-family="'Liberation Serif', serif" font-size="16.4" font-weight="bold" font-style="italic" fill="#081430" textLength="44.6" lengthAdjust="spacingAndGlyphs">Lichse</text>
<text transform="translate(648.2,135.9) skewX(-5)" font-family="'Liberation Serif', serif" font-size="16.4" font-weight="bold" font-style="italic" fill="#1262cf" textLength="61" lengthAdjust="spacingAndGlyphs">Rietheim</text>
<text transform="translate(531.2,159.3) skewX(-5)" font-family="'Liberation Serif', serif" font-size="16.4" font-weight="bold" font-style="italic" fill="#1262cf" textLength="44.6" lengthAdjust="spacingAndGlyphs">Lichse</text>
<rect x="532.2" y="141.3" width="178.5" height="1.5" fill="#081430"/>
<rect x="531" y="139.9" width="179" height="2.1" fill="#1262cf"/>
<line x1="31.2" y1="577.2" x2="284.9" y2="577.2" stroke="#181818" stroke-width="1.25"/>
<text x="25.6" y="580.2" font-family="'Liberation Sans', sans-serif" font-size="11" font-weight="normal" font-style="normal" text-anchor="end" fill="#0c0c14" stroke="#0c0c14" stroke-width="0.55" style="letter-spacing:0.05px">20</text>
<line x1="31.2" y1="556.62" x2="284.9" y2="556.62" stroke="#181818" stroke-width="1.25"/>
<text x="25.6" y="559.62" font-family="'Liberation Sans', sans-serif" font-size="11" font-weight="normal" font-style="normal" text-anchor="end" fill="#0c0c14" stroke="#0c0c14" stroke-width="0.55" style="letter-spacing:0.05px">30</text>
<line x1="31.2" y1="536.05" x2="284.9" y2="536.05" stroke="#181818" stroke-width="1.25"/>
<text x="25.6" y="539.05" font-family="'Liberation Sans', sans-serif" font-size="11" font-weight="normal" font-style="normal" text-anchor="end" fill="#0c0c14" stroke="#0c0c14" stroke-width="0.55" style="letter-spacing:0.05px">40</text>
<line x1="31.2" y1="515.48" x2="284.9" y2="515.48" stroke="#181818" stroke-width="1.25"/>
<text x="25.6" y="518.48" font-family="'Liberation Sans', sans-serif" font-size="11" font-weight="normal" font-style="normal" text-anchor="end" fill="#0c0c14" stroke="#0c0c14" stroke-width="0.55" style="letter-spacing:0.05px">50</text>
<line x1="31.2" y1="494.9" x2="284.9" y2="494.9" stroke="#181818" stroke-width="1.25"/>
<text x="25.6" y="497.9" font-family="'Liberation Sans', sans-serif" font-size="11" font-weight="normal" font-style="normal" text-anchor="end" fill="#0c0c14" stroke="#0c0c14" stroke-width="0.55" style="letter-spacing:0.05px">60</text>
<line x1="31.2" y1="474.33" x2="284.9" y2="474.33" stroke="#181818" stroke-width="1.25"/>
<text x="25.6" y="477.33" font-family="'Liberation Sans', sans-serif" font-size="11" font-weight="normal" font-style="normal" text-anchor="end" fill="#0c0c14" stroke="#0c0c14" stroke-width="0.55" style="letter-spacing:0.05px">70</text>
<line x1="31.2" y1="453.75" x2="284.9" y2="453.75" stroke="#181818" stroke-width="1.25"/>
<text x="25.6" y="456.75" font-family="'Liberation Sans', sans-serif" font-size="11" font-weight="normal" font-style="normal" text-anchor="end" fill="#0c0c14" stroke="#0c0c14" stroke-width="0.55" style="letter-spacing:0.05px">80</text>
<line x1="31.2" y1="433.18" x2="284.9" y2="433.18" stroke="#181818" stroke-width="1.25"/>
<text x="25.6" y="436.18" font-family="'Liberation Sans', sans-serif" font-size="11" font-weight="normal" font-style="normal" text-anchor="end" fill="#0c0c14" stroke="#0c0c14" stroke-width="0.55" style="letter-spacing:0.05px">90</text>
<line x1="31.2" y1="412.6" x2="284.9" y2="412.6" stroke="#181818" stroke-width="1.25"/>
<text x="25.6" y="415.6" font-family="'Liberation Sans', sans-serif" font-size="11" font-weight="normal" font-style="normal" text-anchor="end" fill="#0c0c14" stroke="#0c0c14" stroke-width="0.55" style="letter-spacing:0.05px">100</text>
<line x1="36.8" y1="412.1" x2="36.8" y2="582.7" stroke="#111" stroke-width="1.2"/>
<line x1="36.8" y1="577.2" x2="36.8" y2="582.7" stroke="#222" stroke-width="1.1"/>
<line x1="45.34" y1="577.2" x2="45.34" y2="582.7" stroke="#222" stroke-width="1.1"/>
<line x1="53.88" y1="577.2" x2="53.88" y2="582.7" stroke="#222" stroke-width="1.1"/>
<line x1="62.41" y1="577.2" x2="62.41" y2="582.7" stroke="#222" stroke-width="1.1"/>
<line x1="70.95" y1="577.2" x2="70.95" y2="582.7" stroke="#222" stroke-width="1.1"/>
<line x1="79.49" y1="577.2" x2="79.49" y2="582.7" stroke="#222" stroke-width="1.1"/>
<line x1="88.03" y1="577.2" x2="88.03" y2="582.7" stroke="#222" stroke-width="1.1"/>
<line x1="96.57" y1="577.2" x2="96.57" y2="582.7" stroke="#222" stroke-width="1.1"/>
<line x1="105.1" y1="577.2" x2="105.1" y2="582.7" stroke="#222" stroke-width="1.1"/>
<line x1="113.64" y1="577.2" x2="113.64" y2="582.7" stroke="#222" stroke-width="1.1"/>
<line x1="122.18" y1="577.2" x2="122.18" y2="582.7" stroke="#222" stroke-width="1.1"/>
<line x1="130.72" y1="577.2" x2="130.72" y2="582.7" stroke="#222" stroke-width="1.1"/>
<line x1="139.26" y1="577.2" x2="139.26" y2="582.7" stroke="#222" stroke-width="1.1"/>
<line x1="147.79" y1="577.2" x2="147.79" y2="582.7" stroke="#222" stroke-width="1.1"/>
<line x1="156.33" y1="577.2" x2="156.33" y2="582.7" stroke="#222" stroke-width="1.1"/>
<line x1="164.87" y1="577.2" x2="164.87" y2="582.7" stroke="#222" stroke-width="1.1"/>
<line x1="173.41" y1="577.2" x2="173.41" y2="582.7" stroke="#222" stroke-width="1.1"/>
<line x1="181.95" y1="577.2" x2="181.95" y2="582.7" stroke="#222" stroke-width="1.1"/>
<line x1="190.48" y1="577.2" x2="190.48" y2="582.7" stroke="#222" stroke-width="1.1"/>
<line x1="199.02" y1="577.2" x2="199.02" y2="582.7" stroke="#222" stroke-width="1.1"/>
<line x1="207.56" y1="577.2" x2="207.56" y2="582.7" stroke="#222" stroke-width="1.1"/>
<line x1="216.1" y1="577.2" x2="216.1" y2="582.7" stroke="#222" stroke-width="1.1"/>
<line x1="224.64" y1="577.2" x2="224.64" y2="582.7" stroke="#222" stroke-width="1.1"/>
<line x1="233.17" y1="577.2" x2="233.17" y2="582.7" stroke="#222" stroke-width="1.1"/>
<line x1="241.71" y1="577.2" x2="241.71" y2="582.7" stroke="#222" stroke-width="1.1"/>
<line x1="250.25" y1="577.2" x2="250.25" y2="582.7" stroke="#222" stroke-width="1.1"/>
<line x1="258.79" y1="577.2" x2="258.79" y2="582.7" stroke="#222" stroke-width="1.1"/>
<line x1="267.33" y1="577.2" x2="267.33" y2="582.7" stroke="#222" stroke-width="1.1"/>
<line x1="275.86" y1="577.2" x2="275.86" y2="582.7" stroke="#222" stroke-width="1.1"/>
<line x1="284.4" y1="577.2" x2="284.4" y2="582.7" stroke="#222" stroke-width="1.1"/>
<text x="35.9" y="594.3" font-family="'Liberation Sans', sans-serif" font-size="9.8" font-weight="normal" font-style="normal" text-anchor="middle" fill="#05050c" textLength="11" lengthAdjust="spacingAndGlyphs" >01</text>
<text x="44.44" y="605.1" font-family="'Liberation Sans', sans-serif" font-size="9.8" font-weight="normal" font-style="normal" text-anchor="middle" fill="#05050c" textLength="11" lengthAdjust="spacingAndGlyphs" >02</text>
<text x="52.98" y="594.3" font-family="'Liberation Sans', sans-serif" font-size="9.8" font-weight="normal" font-style="normal" text-anchor="middle" fill="#05050c" textLength="11" lengthAdjust="spacingAndGlyphs" >03</text>
<text x="61.51" y="605.1" font-family="'Liberation Sans', sans-serif" font-size="9.8" font-weight="normal" font-style="normal" text-anchor="middle" fill="#05050c" textLength="11" lengthAdjust="spacingAndGlyphs" >04</text>
<text x="70.05" y="594.3" font-family="'Liberation Sans', sans-serif" font-size="9.8" font-weight="normal" font-style="normal" text-anchor="middle" fill="#05050c" textLength="11" lengthAdjust="spacingAndGlyphs" >05</text>
<text x="78.59" y="605.1" font-family="'Liberation Sans', sans-serif" font-size="9.8" font-weight="normal" font-style="normal" text-anchor="middle" fill="#05050c" textLength="11" lengthAdjust="spacingAndGlyphs" >06</text>
<text x="87.13" y="594.3" font-family="'Liberation Sans', sans-serif" font-size="9.8" font-weight="normal" font-style="normal" text-anchor="middle" fill="#05050c" textLength="11" lengthAdjust="spacingAndGlyphs" >07</text>
<text x="95.67" y="605.1" font-family="'Liberation Sans', sans-serif" font-size="9.8" font-weight="normal" font-style="normal" text-anchor="middle" fill="#05050c" textLength="11" lengthAdjust="spacingAndGlyphs" >08</text>
<text x="104.2" y="594.3" font-family="'Liberation Sans', sans-serif" font-size="9.8" font-weight="normal" font-style="normal" text-anchor="middle" fill="#05050c" textLength="11" lengthAdjust="spacingAndGlyphs" >09</text>
<text x="112.74" y="605.1" font-family="'Liberation Sans', sans-serif" font-size="9.8" font-weight="normal" font-style="normal" text-anchor="middle" fill="#05050c" textLength="11" lengthAdjust="spacingAndGlyphs" >10</text>
<text x="121.28" y="594.3" font-family="'Liberation Sans', sans-serif" font-size="9.8" font-weight="normal" font-style="normal" text-anchor="middle" fill="#05050c" textLength="11" lengthAdjust="spacingAndGlyphs" >11</text>
<text x="129.82" y="605.1" font-family="'Liberation Sans', sans-serif" font-size="9.8" font-weight="normal" font-style="normal" text-anchor="middle" fill="#05050c" textLength="11" lengthAdjust="spacingAndGlyphs" >12</text>
<text x="138.36" y="594.3" font-family="'Liberation Sans', sans-serif" font-size="9.8" font-weight="normal" font-style="normal" text-anchor="middle" fill="#05050c" textLength="11" lengthAdjust="spacingAndGlyphs" >13</text>
<text x="146.89" y="605.1" font-family="'Liberation Sans', sans-serif" font-size="9.8" font-weight="normal" font-style="normal" text-anchor="middle" fill="#05050c" textLength="11" lengthAdjust="spacingAndGlyphs" >14</text>
<text x="155.43" y="594.3" font-family="'Liberation Sans', sans-serif" font-size="9.8" font-weight="normal" font-style="normal" text-anchor="middle" fill="#05050c" textLength="11" lengthAdjust="spacingAndGlyphs" >15</text>
<text x="163.97" y="605.1" font-family="'Liberation Sans', sans-serif" font-size="9.8" font-weight="normal" font-style="normal" text-anchor="middle" fill="#05050c" textLength="11" lengthAdjust="spacingAndGlyphs" >16</text>
<text x="172.51" y="594.3" font-family="'Liberation Sans', sans-serif" font-size="9.8" font-weight="normal" font-style="normal" text-anchor="middle" fill="#05050c" textLength="11" lengthAdjust="spacingAndGlyphs" >17</text>
<text x="181.05" y="605.1" font-family="'Liberation Sans', sans-serif" font-size="9.8" font-weight="normal" font-style="normal" text-anchor="middle" fill="#05050c" textLength="11" lengthAdjust="spacingAndGlyphs" >18</text>
<text x="189.58" y="594.3" font-family="'Liberation Sans', sans-serif" font-size="9.8" font-weight="normal" font-style="normal" text-anchor="middle" fill="#05050c" textLength="11" lengthAdjust="spacingAndGlyphs" >19</text>
<text x="198.12" y="605.1" font-family="'Liberation Sans', sans-serif" font-size="9.8" font-weight="normal" font-style="normal" text-anchor="middle" fill="#05050c" textLength="11" lengthAdjust="spacingAndGlyphs" >20</text>
<text x="206.66" y="594.3" font-family="'Liberation Sans', sans-serif" font-size="9.8" font-weight="normal" font-style="normal" text-anchor="middle" fill="#05050c" textLength="11" lengthAdjust="spacingAndGlyphs" >21</text>
<text x="215.2" y="605.1" font-family="'Liberation Sans', sans-serif" font-size="9.8" font-weight="normal" font-style="normal" text-anchor="middle" fill="#05050c" textLength="11" lengthAdjust="spacingAndGlyphs" >22</text>
<text x="223.74" y="594.3" font-family="'Liberation Sans', sans-serif" font-size="9.8" font-weight="normal" font-style="normal" text-anchor="middle" fill="#05050c" textLength="11" lengthAdjust="spacingAndGlyphs" >23</text>
<text x="232.27" y="605.1" font-family="'Liberation Sans', sans-serif" font-size="9.8" font-weight="normal" font-style="normal" text-anchor="middle" fill="#05050c" textLength="11" lengthAdjust="spacingAndGlyphs" >24</text>
<text x="240.81" y="594.3" font-family="'Liberation Sans', sans-serif" font-size="9.8" font-weight="normal" font-style="normal" text-anchor="middle" fill="#05050c" textLength="11" lengthAdjust="spacingAndGlyphs" >25</text>
<text x="249.35" y="605.1" font-family="'Liberation Sans', sans-serif" font-size="9.8" font-weight="normal" font-style="normal" text-anchor="middle" fill="#05050c" textLength="11" lengthAdjust="spacingAndGlyphs" >26</text>
<text x="257.89" y="594.3" font-family="'Liberation Sans', sans-serif" font-size="9.8" font-weight="normal" font-style="normal" text-anchor="middle" fill="#05050c" textLength="11" lengthAdjust="spacingAndGlyphs" >27</text>
<text x="266.43" y="605.1" font-family="'Liberation Sans', sans-serif" font-size="9.8" font-weight="normal" font-style="normal" text-anchor="middle" fill="#05050c" textLength="11" lengthAdjust="spacingAndGlyphs" >28</text>
<text x="274.96" y="594.3" font-family="'Liberation Sans', sans-serif" font-size="9.8" font-weight="normal" font-style="normal" text-anchor="middle" fill="#05050c" textLength="11" lengthAdjust="spacingAndGlyphs" >29</text>
<text x="283.5" y="605.1" font-family="'Liberation Sans', sans-serif" font-size="9.8" font-weight="normal" font-style="normal" text-anchor="middle" fill="#05050c" textLength="11" lengthAdjust="spacingAndGlyphs" >30</text>
<polyline points="36.8,435.23 45.34,427 53.88,420.83 62.41,418.77 70.95,416.72 79.49,422.89 88.03,414.66 96.57,416.72 105.1,416.72 113.64,420.83 122.18,420.83 130.72,418.77 139.26,418.77 147.79,418.77 156.33,424.95 164.87,416.72 173.41,414.66 181.95,424.95 190.48,445.52 199.02,418.77 207.56,416.72 216.1,420.83 224.64,418.77 233.17,416.72 241.71,420.83 250.25,418.77 258.79,418.77 267.33,418.77 275.86,416.72 284.4,418.77" fill="none" stroke="#ff9468" stroke-width="0.9" stroke-linejoin="round" />
<polyline points="36.8,501.07 45.34,509.3 53.88,496.96 62.41,488.73 70.95,496.96 79.49,482.56 88.03,519.59 96.57,472.27 105.1,468.15 113.64,472.27 122.18,449.64 130.72,488.73 139.26,461.98 147.79,464.04 156.33,490.79 164.87,435.23 173.41,447.58 181.95,490.79 190.48,499.02 199.02,503.13 207.56,501.07 216.1,521.65 224.64,466.1 233.17,488.73 241.71,494.9 250.25,435.23 258.79,459.92 267.33,451.69 275.86,490.79 284.4,486.67" fill="none" stroke="#ff9468" stroke-width="0.9" stroke-linejoin="round" />
<polyline points="36.8,463.42 45.34,451.08 53.88,442.95 62.41,438.32 70.95,448.81 79.49,441.82 88.03,457.04 96.57,435.44 105.1,432.35 113.64,436.67 122.18,430.29 130.72,437.5 139.26,427 147.79,437.29 156.33,448.61 164.87,422.68 173.41,424.33 181.95,451.9 190.48,464.86 199.02,448.4 207.56,448.4 216.1,453.34 224.64,431.53 233.17,440.79 241.71,447.78 250.25,421.65 258.79,437.7 267.33,430.71 275.86,444.49 284.4,441.2" fill="none" stroke="#262626" stroke-width="0.95" stroke-linejoin="round" />
<line x1="352.9" y1="577.1" x2="600" y2="577.1" stroke="#181818" stroke-width="1.15"/>
<text x="347.6" y="580.25" font-family="'Liberation Sans', sans-serif" font-size="11" font-weight="normal" font-style="normal" text-anchor="end" fill="#0c0c14" stroke="#0c0c14" stroke-width="0.35" style="letter-spacing:0.25px">990</text>
<line x1="352.9" y1="544.24" x2="600" y2="544.24" stroke="#181818" stroke-width="1.15"/>
<text x="347.6" y="547.39" font-family="'Liberation Sans', sans-serif" font-size="11" font-weight="normal" font-style="normal" text-anchor="end" fill="#0c0c14" stroke="#0c0c14" stroke-width="0.35" style="letter-spacing:0.25px">1000</text>
<line x1="352.9" y1="511.38" x2="600" y2="511.38" stroke="#181818" stroke-width="1.15"/>
<text x="347.6" y="514.53" font-family="'Liberation Sans', sans-serif" font-size="11" font-weight="normal" font-style="normal" text-anchor="end" fill="#0c0c14" stroke="#0c0c14" stroke-width="0.35" style="letter-spacing:0.25px">1010</text>
<line x1="352.9" y1="478.52" x2="600" y2="478.52" stroke="#181818" stroke-width="1.15"/>
<text x="347.6" y="481.67" font-family="'Liberation Sans', sans-serif" font-size="11" font-weight="normal" font-style="normal" text-anchor="end" fill="#0c0c14" stroke="#0c0c14" stroke-width="0.35" style="letter-spacing:0.25px">1020</text>
<line x1="352.9" y1="445.66" x2="600" y2="445.66" stroke="#181818" stroke-width="1.15"/>
<text x="347.6" y="448.81" font-family="'Liberation Sans', sans-serif" font-size="11" font-weight="normal" font-style="normal" text-anchor="end" fill="#0c0c14" stroke="#0c0c14" stroke-width="0.35" style="letter-spacing:0.25px">1030</text>
<line x1="352.9" y1="412.8" x2="600" y2="412.8" stroke="#181818" stroke-width="1.15"/>
<text x="347.6" y="415.95" font-family="'Liberation Sans', sans-serif" font-size="11" font-weight="normal" font-style="normal" text-anchor="end" fill="#0c0c14" stroke="#0c0c14" stroke-width="0.35" style="letter-spacing:0.25px">1040</text>
<line x1="358.6" y1="412.3" x2="358.6" y2="582.6" stroke="#111" stroke-width="1.1"/>
<line x1="358.6" y1="577.1" x2="358.6" y2="582.6" stroke="#222" stroke-width="1.1"/>
<line x1="366.91" y1="577.1" x2="366.91" y2="582.6" stroke="#222" stroke-width="1.1"/>
<line x1="375.21" y1="577.1" x2="375.21" y2="582.6" stroke="#222" stroke-width="1.1"/>
<line x1="383.52" y1="577.1" x2="383.52" y2="582.6" stroke="#222" stroke-width="1.1"/>
<line x1="391.83" y1="577.1" x2="391.83" y2="582.6" stroke="#222" stroke-width="1.1"/>
<line x1="400.14" y1="577.1" x2="400.14" y2="582.6" stroke="#222" stroke-width="1.1"/>
<line x1="408.44" y1="577.1" x2="408.44" y2="582.6" stroke="#222" stroke-width="1.1"/>
<line x1="416.75" y1="577.1" x2="416.75" y2="582.6" stroke="#222" stroke-width="1.1"/>
<line x1="425.06" y1="577.1" x2="425.06" y2="582.6" stroke="#222" stroke-width="1.1"/>
<line x1="433.36" y1="577.1" x2="433.36" y2="582.6" stroke="#222" stroke-width="1.1"/>
<line x1="441.67" y1="577.1" x2="441.67" y2="582.6" stroke="#222" stroke-width="1.1"/>
<line x1="449.98" y1="577.1" x2="449.98" y2="582.6" stroke="#222" stroke-width="1.1"/>
<line x1="458.28" y1="577.1" x2="458.28" y2="582.6" stroke="#222" stroke-width="1.1"/>
<line x1="466.59" y1="577.1" x2="466.59" y2="582.6" stroke="#222" stroke-width="1.1"/>
<line x1="474.9" y1="577.1" x2="474.9" y2="582.6" stroke="#222" stroke-width="1.1"/>
<line x1="483.21" y1="577.1" x2="483.21" y2="582.6" stroke="#222" stroke-width="1.1"/>
<line x1="491.51" y1="577.1" x2="491.51" y2="582.6" stroke="#222" stroke-width="1.1"/>
<line x1="499.82" y1="577.1" x2="499.82" y2="582.6" stroke="#222" stroke-width="1.1"/>
<line x1="508.13" y1="577.1" x2="508.13" y2="582.6" stroke="#222" stroke-width="1.1"/>
<line x1="516.43" y1="577.1" x2="516.43" y2="582.6" stroke="#222" stroke-width="1.1"/>
<line x1="524.74" y1="577.1" x2="524.74" y2="582.6" stroke="#222" stroke-width="1.1"/>
<line x1="533.05" y1="577.1" x2="533.05" y2="582.6" stroke="#222" stroke-width="1.1"/>
<line x1="541.35" y1="577.1" x2="541.35" y2="582.6" stroke="#222" stroke-width="1.1"/>
<line x1="549.66" y1="577.1" x2="549.66" y2="582.6" stroke="#222" stroke-width="1.1"/>
<line x1="557.97" y1="577.1" x2="557.97" y2="582.6" stroke="#222" stroke-width="1.1"/>
<line x1="566.28" y1="577.1" x2="566.28" y2="582.6" stroke="#222" stroke-width="1.1"/>
<line x1="574.58" y1="577.1" x2="574.58" y2="582.6" stroke="#222" stroke-width="1.1"/>
<line x1="582.89" y1="577.1" x2="582.89" y2="582.6" stroke="#222" stroke-width="1.1"/>
<line x1="591.2" y1="577.1" x2="591.2" y2="582.6" stroke="#222" stroke-width="1.1"/>
<line x1="599.5" y1="577.1" x2="599.5" y2="582.6" stroke="#222" stroke-width="1.1"/>
<text x="358.1" y="594.3" font-family="'Liberation Sans', sans-serif" font-size="9.8" font-weight="normal" font-style="normal" text-anchor="middle" fill="#05050c" textLength="11" lengthAdjust="spacingAndGlyphs" >01</text>
<text x="366.41" y="605.1" font-family="'Liberation Sans', sans-serif" font-size="9.8" font-weight="normal" font-style="normal" text-anchor="middle" fill="#05050c" textLength="11" lengthAdjust="spacingAndGlyphs" >02</text>
<text x="374.71" y="594.3" font-family="'Liberation Sans', sans-serif" font-size="9.8" font-weight="normal" font-style="normal" text-anchor="middle" fill="#05050c" textLength="11" lengthAdjust="spacingAndGlyphs" >03</text>
<text x="383.02" y="605.1" font-family="'Liberation Sans', sans-serif" font-size="9.8" font-weight="normal" font-style="normal" text-anchor="middle" fill="#05050c" textLength="11" lengthAdjust="spacingAndGlyphs" >04</text>
<text x="391.33" y="594.3" font-family="'Liberation Sans', sans-serif" font-size="9.8" font-weight="normal" font-style="normal" text-anchor="middle" fill="#05050c" textLength="11" lengthAdjust="spacingAndGlyphs" >05</text>
<text x="399.64" y="605.1" font-family="'Liberation Sans', sans-serif" font-size="9.8" font-weight="normal" font-style="normal" text-anchor="middle" fill="#05050c" textLength="11" lengthAdjust="spacingAndGlyphs" >06</text>
<text x="407.94" y="594.3" font-family="'Liberation Sans', sans-serif" font-size="9.8" font-weight="normal" font-style="normal" text-anchor="middle" fill="#05050c" textLength="11" lengthAdjust="spacingAndGlyphs" >07</text>
<text x="416.25" y="605.1" font-family="'Liberation Sans', sans-serif" font-size="9.8" font-weight="normal" font-style="normal" text-anchor="middle" fill="#05050c" textLength="11" lengthAdjust="spacingAndGlyphs" >08</text>
<text x="424.56" y="594.3" font-family="'Liberation Sans', sans-serif" font-size="9.8" font-weight="normal" font-style="normal" text-anchor="middle" fill="#05050c" textLength="11" lengthAdjust="spacingAndGlyphs" >09</text>
<text x="432.86" y="605.1" font-family="'Liberation Sans', sans-serif" font-size="9.8" font-weight="normal" font-style="normal" text-anchor="middle" fill="#05050c" textLength="11" lengthAdjust="spacingAndGlyphs" >10</text>
<text x="441.17" y="594.3" font-family="'Liberation Sans', sans-serif" font-size="9.8" font-weight="normal" font-style="normal" text-anchor="middle" fill="#05050c" textLength="11" lengthAdjust="spacingAndGlyphs" >11</text>
<text x="449.48" y="605.1" font-family="'Liberation Sans', sans-serif" font-size="9.8" font-weight="normal" font-style="normal" text-anchor="middle" fill="#05050c" textLength="11" lengthAdjust="spacingAndGlyphs" >12</text>
<text x="457.78" y="594.3" font-family="'Liberation Sans', sans-serif" font-size="9.8" font-weight="normal" font-style="normal" text-anchor="middle" fill="#05050c" textLength="11" lengthAdjust="spacingAndGlyphs" >13</text>
<text x="466.09" y="605.1" font-family="'Liberation Sans', sans-serif" font-size="9.8" font-weight="normal" font-style="normal" text-anchor="middle" fill="#05050c" textLength="11" lengthAdjust="spacingAndGlyphs" >14</text>
<text x="474.4" y="594.3" font-family="'Liberation Sans', sans-serif" font-size="9.8" font-weight="normal" font-style="normal" text-anchor="middle" fill="#05050c" textLength="11" lengthAdjust="spacingAndGlyphs" >15</text>
<text x="482.71" y="605.1" font-family="'Liberation Sans', sans-serif" font-size="9.8" font-weight="normal" font-style="normal" text-anchor="middle" fill="#05050c" textLength="11" lengthAdjust="spacingAndGlyphs" >16</text>
<text x="491.01" y="594.3" font-family="'Liberation Sans', sans-serif" font-size="9.8" font-weight="normal" font-style="normal" text-anchor="middle" fill="#05050c" textLength="11" lengthAdjust="spacingAndGlyphs" >17</text>
<text x="499.32" y="605.1" font-family="'Liberation Sans', sans-serif" font-size="9.8" font-weight="normal" font-style="normal" text-anchor="middle" fill="#05050c" textLength="11" lengthAdjust="spacingAndGlyphs" >18</text>
<text x="507.63" y="594.3" font-family="'Liberation Sans', sans-serif" font-size="9.8" font-weight="normal" font-style="normal" text-anchor="middle" fill="#05050c" textLength="11" lengthAdjust="spacingAndGlyphs" >19</text>
<text x="515.93" y="605.1" font-family="'Liberation Sans', sans-serif" font-size="9.8" font-weight="normal" font-style="normal" text-anchor="middle" fill="#05050c" textLength="11" lengthAdjust="spacingAndGlyphs" >20</text>
<text x="524.24" y="594.3" font-family="'Liberation Sans', sans-serif" font-size="9.8" font-weight="normal" font-style="normal" text-anchor="middle" fill="#05050c" textLength="11" lengthAdjust="spacingAndGlyphs" >21</text>
<text x="532.55" y="605.1" font-family="'Liberation Sans', sans-serif" font-size="9.8" font-weight="normal" font-style="normal" text-anchor="middle" fill="#05050c" textLength="11" lengthAdjust="spacingAndGlyphs" >22</text>
<text x="540.85" y="594.3" font-family="'Liberation Sans', sans-serif" font-size="9.8" font-weight="normal" font-style="normal" text-anchor="middle" fill="#05050c" textLength="11" lengthAdjust="spacingAndGlyphs" >23</text>
<text x="549.16" y="605.1" font-family="'Liberation Sans', sans-serif" font-size="9.8" font-weight="normal" font-style="normal" text-anchor="middle" fill="#05050c" textLength="11" lengthAdjust="spacingAndGlyphs" >24</text>
<text x="557.47" y="594.3" font-family="'Liberation Sans', sans-serif" font-size="9.8" font-weight="normal" font-style="normal" text-anchor="middle" fill="#05050c" textLength="11" lengthAdjust="spacingAndGlyphs" >25</text>
<text x="565.78" y="605.1" font-family="'Liberation Sans', sans-serif" font-size="9.8" font-weight="normal" font-style="normal" text-anchor="middle" fill="#05050c" textLength="11" lengthAdjust="spacingAndGlyphs" >26</text>
<text x="574.08" y="594.3" font-family="'Liberation Sans', sans-serif" font-size="9.8" font-weight="normal" font-style="normal" text-anchor="middle" fill="#05050c" textLength="11" lengthAdjust="spacingAndGlyphs" >27</text>
<text x="582.39" y="605.1" font-family="'Liberation Sans', sans-serif" font-size="9.8" font-weight="normal" font-style="normal" text-anchor="middle" fill="#05050c" textLength="11" lengthAdjust="spacingAndGlyphs" >28</text>
<text x="590.7" y="594.3" font-family="'Liberation Sans', sans-serif" font-size="9.8" font-weight="normal" font-style="normal" text-anchor="middle" fill="#05050c" textLength="11" lengthAdjust="spacingAndGlyphs" >29</text>
<text x="599" y="605.1" font-family="'Liberation Sans', sans-serif" font-size="9.8" font-weight="normal" font-style="normal" text-anchor="middle" fill="#05050c" textLength="11" lengthAdjust="spacingAndGlyphs" >30</text>
<polyline points="358.6,493.14 366.91,501.52 375.21,495.61 383.52,497.91 391.83,511.05 400.14,505.14 408.44,503.49 416.75,510.07 425.06,509.08 433.36,498.24 441.67,503.82 449.98,494.62 458.28,463.08 466.59,451.25 474.9,451.57 483.21,466.03 491.51,469.15 499.82,471.29 508.13,481.48 516.43,479.18 524.74,479.34 533.05,486.74 541.35,504.48 549.66,511.22 557.97,510.07 566.28,527.48 574.58,512.04 582.89,455.68 591.2,450.42 599.5,475.07" fill="none" stroke="#ff9468" stroke-width="0.9" stroke-linejoin="round" />
<polyline points="358.6,508.26 366.91,509.08 375.21,502.84 383.52,509.74 391.83,532.41 400.14,521.24 408.44,514.99 416.75,524.52 425.06,527.15 433.36,509.74 441.67,518.61 449.98,507.44 458.28,494.29 466.59,464.06 474.9,465.54 483.21,473.26 491.51,476.22 499.82,481.81 508.13,490.19 516.43,489.36 524.74,487.23 533.05,503.17 541.35,516.97 549.66,519.43 557.97,526.5 566.28,549.83 574.58,533.4 582.89,511.54 591.2,475.07 599.5,495.28" fill="none" stroke="#ff9468" stroke-width="0.9" stroke-linejoin="round" />
<polyline points="358.6,502.01 366.91,505.79 375.21,499.39 383.52,502.67 391.83,527.15 400.14,513.35 408.44,509.08 416.75,516.97 425.06,521.57 433.36,503.17 441.67,513.35 449.98,498.56 458.28,479.34 466.59,455.85 474.9,459.3 483.21,471.29 491.51,473.26 499.82,477.86 508.13,487.06 516.43,483.45 524.74,483.45 533.05,496.43 541.35,511.54 549.66,516.31 557.97,515.65 566.28,541.28 574.58,528.14 582.89,486.74 591.2,459.63 599.5,487.06" fill="none" stroke="#262626" stroke-width="0.95" stroke-linejoin="round" />
<rect x="679.6" y="564.72" width="253.59" height="12.18" fill="#c8fab6"/>
<rect x="679.6" y="552.84" width="253.59" height="12.18" fill="#dcfdb6"/>
<rect x="679.6" y="537" width="253.59" height="16.14" fill="#e9ffb6"/>
<rect x="679.6" y="519.18" width="253.59" height="18.12" fill="#f6ffb4"/>
<rect x="679.6" y="499.38" width="253.59" height="20.1" fill="#ffffb6"/>
<rect x="679.6" y="477.6" width="253.59" height="22.08" fill="#fff0bb"/>
<rect x="679.6" y="453.84" width="253.59" height="24.06" fill="#fed5b6"/>
<rect x="679.6" y="428.5" width="253.59" height="25.64" fill="#fcc0bb"/>
<rect x="679.6" y="405.4" width="253.59" height="23.4" fill="#ff9797"/>
<line x1="680.6" y1="564.72" x2="933.2" y2="564.72" stroke="#989890" stroke-opacity="0.62" stroke-width="0.85" stroke-dasharray="1.9 1.7"/>
<line x1="680.6" y1="552.84" x2="933.2" y2="552.84" stroke="#989890" stroke-opacity="0.62" stroke-width="0.85" stroke-dasharray="1.9 1.7"/>
<line x1="680.6" y1="537" x2="933.2" y2="537" stroke="#989890" stroke-opacity="0.62" stroke-width="0.85" stroke-dasharray="1.9 1.7"/>
<line x1="680.6" y1="519.18" x2="933.2" y2="519.18" stroke="#989890" stroke-opacity="0.62" stroke-width="0.85" stroke-dasharray="1.9 1.7"/>
<line x1="680.6" y1="499.38" x2="933.2" y2="499.38" stroke="#989890" stroke-opacity="0.62" stroke-width="0.85" stroke-dasharray="1.9 1.7"/>
<line x1="680.6" y1="477.6" x2="933.2" y2="477.6" stroke="#989890" stroke-opacity="0.62" stroke-width="0.85" stroke-dasharray="1.9 1.7"/>
<line x1="680.6" y1="453.84" x2="933.2" y2="453.84" stroke="#989890" stroke-opacity="0.62" stroke-width="0.85" stroke-dasharray="1.9 1.7"/>
<line x1="680.6" y1="428.5" x2="933.2" y2="428.5" stroke="#989890" stroke-opacity="0.62" stroke-width="0.85" stroke-dasharray="1.9 1.7"/>
<text x="805.3" y="574.6" font-family="'Liberation Serif', sans-serif" font-size="8.4" font-weight="bold" font-style="normal" text-anchor="middle" fill="#b0a8a0" >1</text>
<text x="805.3" y="561.7" font-family="'Liberation Serif', sans-serif" font-size="8.4" font-weight="bold" font-style="normal" text-anchor="middle" fill="#a898a4" >2</text>
<text x="805.3" y="548" font-family="'Liberation Serif', sans-serif" font-size="8.4" font-weight="bold" font-style="normal" text-anchor="middle" fill="#a898a4" >3</text>
<text x="805.3" y="531.4" font-family="'Liberation Serif', sans-serif" font-size="8.4" font-weight="bold" font-style="normal" text-anchor="middle" fill="#a898a4" >4</text>
<text x="805.3" y="513.2" font-family="'Liberation Serif', sans-serif" font-size="8.4" font-weight="bold" font-style="normal" text-anchor="middle" fill="#b0a0a0" >5</text>
<text x="805.3" y="492.4" font-family="'Liberation Serif', sans-serif" font-size="8.4" font-weight="bold" font-style="normal" text-anchor="middle" fill="#b0a0a0" >6</text>
<text x="805.3" y="468.2" font-family="'Liberation Serif', sans-serif" font-size="8.4" font-weight="bold" font-style="normal" text-anchor="middle" fill="#c4b0a8" >7</text>
<text x="805.3" y="444.7" font-family="'Liberation Serif', sans-serif" font-size="8.4" font-weight="bold" font-style="normal" text-anchor="middle" fill="#fff" >8</text>
<text x="805.3" y="420.2" font-family="'Liberation Serif', sans-serif" font-size="8.4" font-weight="bold" font-style="normal" text-anchor="middle" fill="#fff" >9</text>
<line x1="679.1" y1="576.6" x2="934" y2="576.6" stroke="#555" stroke-width="1.8"/>
<line x1="679.6" y1="405.4" x2="679.6" y2="582.4" stroke="#111" stroke-width="1.2"/>
<line x1="673.7" y1="576.6" x2="679.6" y2="576.6" stroke="#111" stroke-width="1.2"/>
<text x="669.6" y="580.5" font-family="'Liberation Sans', sans-serif" font-size="11" font-weight="normal" font-style="normal" text-anchor="end" fill="#0c0c14" stroke="#0c0c14" stroke-width="0.55" style="letter-spacing:0.2px">0</text>
<line x1="673.7" y1="556.8" x2="679.6" y2="556.8" stroke="#111" stroke-width="1.2"/>
<text x="669.6" y="560.7" font-family="'Liberation Sans', sans-serif" font-size="11" font-weight="normal" font-style="normal" text-anchor="end" fill="#0c0c14" stroke="#0c0c14" stroke-width="0.55" style="letter-spacing:0.2px">10</text>
<line x1="673.7" y1="537" x2="679.6" y2="537" stroke="#111" stroke-width="1.2"/>
<text x="669.6" y="540.9" font-family="'Liberation Sans', sans-serif" font-size="11" font-weight="normal" font-style="normal" text-anchor="end" fill="#0c0c14" stroke="#0c0c14" stroke-width="0.55" style="letter-spacing:0.2px">20</text>
<line x1="673.7" y1="517.2" x2="679.6" y2="517.2" stroke="#111" stroke-width="1.2"/>
<text x="669.6" y="521.1" font-family="'Liberation Sans', sans-serif" font-size="11" font-weight="normal" font-style="normal" text-anchor="end" fill="#0c0c14" stroke="#0c0c14" stroke-width="0.55" style="letter-spacing:0.2px">30</text>
<line x1="673.7" y1="497.4" x2="679.6" y2="497.4" stroke="#111" stroke-width="1.2"/>
<text x="669.6" y="501.3" font-family="'Liberation Sans', sans-serif" font-size="11" font-weight="normal" font-style="normal" text-anchor="end" fill="#0c0c14" stroke="#0c0c14" stroke-width="0.55" style="letter-spacing:0.2px">40</text>
<line x1="673.7" y1="477.6" x2="679.6" y2="477.6" stroke="#111" stroke-width="1.2"/>
<text x="669.6" y="481.5" font-family="'Liberation Sans', sans-serif" font-size="11" font-weight="normal" font-style="normal" text-anchor="end" fill="#0c0c14" stroke="#0c0c14" stroke-width="0.55" style="letter-spacing:0.2px">50</text>
<line x1="673.7" y1="457.8" x2="679.6" y2="457.8" stroke="#111" stroke-width="1.2"/>
<text x="669.6" y="461.7" font-family="'Liberation Sans', sans-serif" font-size="11" font-weight="normal" font-style="normal" text-anchor="end" fill="#0c0c14" stroke="#0c0c14" stroke-width="0.55" style="letter-spacing:0.2px">60</text>
<line x1="673.7" y1="438" x2="679.6" y2="438" stroke="#111" stroke-width="1.2"/>
<text x="669.6" y="441.9" font-family="'Liberation Sans', sans-serif" font-size="11" font-weight="normal" font-style="normal" text-anchor="end" fill="#0c0c14" stroke="#0c0c14" stroke-width="0.55" style="letter-spacing:0.2px">70</text>
<line x1="673.7" y1="418.2" x2="679.6" y2="418.2" stroke="#111" stroke-width="1.2"/>
<text x="669.6" y="422.1" font-family="'Liberation Sans', sans-serif" font-size="11" font-weight="normal" font-style="normal" text-anchor="end" fill="#0c0c14" stroke="#0c0c14" stroke-width="0.55" style="letter-spacing:0.2px">80</text>
<line x1="679.6" y1="576.6" x2="679.6" y2="582.6" stroke="#222" stroke-width="1.1"/>
<line x1="688.36" y1="576.6" x2="688.36" y2="582.6" stroke="#222" stroke-width="1.1"/>
<line x1="697.11" y1="576.6" x2="697.11" y2="582.6" stroke="#222" stroke-width="1.1"/>
<line x1="705.87" y1="576.6" x2="705.87" y2="582.6" stroke="#222" stroke-width="1.1"/>
<line x1="714.62" y1="576.6" x2="714.62" y2="582.6" stroke="#222" stroke-width="1.1"/>
<line x1="723.38" y1="576.6" x2="723.38" y2="582.6" stroke="#222" stroke-width="1.1"/>
<line x1="732.13" y1="576.6" x2="732.13" y2="582.6" stroke="#222" stroke-width="1.1"/>
<line x1="740.88" y1="576.6" x2="740.88" y2="582.6" stroke="#222" stroke-width="1.1"/>
<line x1="749.64" y1="576.6" x2="749.64" y2="582.6" stroke="#222" stroke-width="1.1"/>
<line x1="758.39" y1="576.6" x2="758.39" y2="582.6" stroke="#222" stroke-width="1.1"/>
<line x1="767.15" y1="576.6" x2="767.15" y2="582.6" stroke="#222" stroke-width="1.1"/>
<line x1="775.9" y1="576.6" x2="775.9" y2="582.6" stroke="#222" stroke-width="1.1"/>
<line x1="784.66" y1="576.6" x2="784.66" y2="582.6" stroke="#222" stroke-width="1.1"/>
<line x1="793.42" y1="576.6" x2="793.42" y2="582.6" stroke="#222" stroke-width="1.1"/>
<line x1="802.17" y1="576.6" x2="802.17" y2="582.6" stroke="#222" stroke-width="1.1"/>
<line x1="810.93" y1="576.6" x2="810.93" y2="582.6" stroke="#222" stroke-width="1.1"/>
<line x1="819.68" y1="576.6" x2="819.68" y2="582.6" stroke="#222" stroke-width="1.1"/>
<line x1="828.44" y1="576.6" x2="828.44" y2="582.6" stroke="#222" stroke-width="1.1"/>
<line x1="837.19" y1="576.6" x2="837.19" y2="582.6" stroke="#222" stroke-width="1.1"/>
<line x1="845.95" y1="576.6" x2="845.95" y2="582.6" stroke="#222" stroke-width="1.1"/>
<line x1="854.7" y1="576.6" x2="854.7" y2="582.6" stroke="#222" stroke-width="1.1"/>
<line x1="863.46" y1="576.6" x2="863.46" y2="582.6" stroke="#222" stroke-width="1.1"/>
<line x1="872.21" y1="576.6" x2="872.21" y2="582.6" stroke="#222" stroke-width="1.1"/>
<line x1="880.97" y1="576.6" x2="880.97" y2="582.6" stroke="#222" stroke-width="1.1"/>
<line x1="889.72" y1="576.6" x2="889.72" y2="582.6" stroke="#222" stroke-width="1.1"/>
<line x1="898.48" y1="576.6" x2="898.48" y2="582.6" stroke="#222" stroke-width="1.1"/>
<line x1="907.23" y1="576.6" x2="907.23" y2="582.6" stroke="#222" stroke-width="1.1"/>
<line x1="915.99" y1="576.6" x2="915.99" y2="582.6" stroke="#222" stroke-width="1.1"/>
<line x1="924.74" y1="576.6" x2="924.74" y2="582.6" stroke="#222" stroke-width="1.1"/>
<line x1="933.5" y1="576.6" x2="933.5" y2="582.6" stroke="#222" stroke-width="1.1"/>
<text x="679.3" y="594.3" font-family="'Liberation Sans', sans-serif" font-size="9.8" font-weight="normal" font-style="normal" text-anchor="middle" fill="#05050c" textLength="11" lengthAdjust="spacingAndGlyphs" >01</text>
<text x="688.06" y="605.1" font-family="'Liberation Sans', sans-serif" font-size="9.8" font-weight="normal" font-style="normal" text-anchor="middle" fill="#05050c" textLength="11" lengthAdjust="spacingAndGlyphs" >02</text>
<text x="696.81" y="594.3" font-family="'Liberation Sans', sans-serif" font-size="9.8" font-weight="normal" font-style="normal" text-anchor="middle" fill="#05050c" textLength="11" lengthAdjust="spacingAndGlyphs" >03</text>
<text x="705.57" y="605.1" font-family="'Liberation Sans', sans-serif" font-size="9.8" font-weight="normal" font-style="normal" text-anchor="middle" fill="#05050c" textLength="11" lengthAdjust="spacingAndGlyphs" >04</text>
<text x="714.32" y="594.3" font-family="'Liberation Sans', sans-serif" font-size="9.8" font-weight="normal" font-style="normal" text-anchor="middle" fill="#05050c" textLength="11" lengthAdjust="spacingAndGlyphs" >05</text>
<text x="723.08" y="605.1" font-family="'Liberation Sans', sans-serif" font-size="9.8" font-weight="normal" font-style="normal" text-anchor="middle" fill="#05050c" textLength="11" lengthAdjust="spacingAndGlyphs" >06</text>
<text x="731.83" y="594.3" font-family="'Liberation Sans', sans-serif" font-size="9.8" font-weight="normal" font-style="normal" text-anchor="middle" fill="#05050c" textLength="11" lengthAdjust="spacingAndGlyphs" >07</text>
<text x="740.59" y="605.1" font-family="'Liberation Sans', sans-serif" font-size="9.8" font-weight="normal" font-style="normal" text-anchor="middle" fill="#05050c" textLength="11" lengthAdjust="spacingAndGlyphs" >08</text>
<text x="749.34" y="594.3" font-family="'Liberation Sans', sans-serif" font-size="9.8" font-weight="normal" font-style="normal" text-anchor="middle" fill="#05050c" textLength="11" lengthAdjust="spacingAndGlyphs" >09</text>
<text x="758.1" y="605.1" font-family="'Liberation Sans', sans-serif" font-size="9.8" font-weight="normal" font-style="normal" text-anchor="middle" fill="#05050c" textLength="11" lengthAdjust="spacingAndGlyphs" >10</text>
<text x="766.85" y="594.3" font-family="'Liberation Sans', sans-serif" font-size="9.8" font-weight="normal" font-style="normal" text-anchor="middle" fill="#05050c" textLength="11" lengthAdjust="spacingAndGlyphs" >11</text>
<text x="775.61" y="605.1" font-family="'Liberation Sans', sans-serif" font-size="9.8" font-weight="normal" font-style="normal" text-anchor="middle" fill="#05050c" textLength="11" lengthAdjust="spacingAndGlyphs" >12</text>
<text x="784.36" y="594.3" font-family="'Liberation Sans', sans-serif" font-size="9.8" font-weight="normal" font-style="normal" text-anchor="middle" fill="#05050c" textLength="11" lengthAdjust="spacingAndGlyphs" >13</text>
<text x="793.12" y="605.1" font-family="'Liberation Sans', sans-serif" font-size="9.8" font-weight="normal" font-style="normal" text-anchor="middle" fill="#05050c" textLength="11" lengthAdjust="spacingAndGlyphs" >14</text>
<text x="801.87" y="594.3" font-family="'Liberation Sans', sans-serif" font-size="9.8" font-weight="normal" font-style="normal" text-anchor="middle" fill="#05050c" textLength="11" lengthAdjust="spacingAndGlyphs" >15</text>
<text x="810.63" y="605.1" font-family="'Liberation Sans', sans-serif" font-size="9.8" font-weight="normal" font-style="normal" text-anchor="middle" fill="#05050c" textLength="11" lengthAdjust="spacingAndGlyphs" >16</text>
<text x="819.38" y="594.3" font-family="'Liberation Sans', sans-serif" font-size="9.8" font-weight="normal" font-style="normal" text-anchor="middle" fill="#05050c" textLength="11" lengthAdjust="spacingAndGlyphs" >17</text>
<text x="828.14" y="605.1" font-family="'Liberation Sans', sans-serif" font-size="9.8" font-weight="normal" font-style="normal" text-anchor="middle" fill="#05050c" textLength="11" lengthAdjust="spacingAndGlyphs" >18</text>
<text x="836.89" y="594.3" font-family="'Liberation Sans', sans-serif" font-size="9.8" font-weight="normal" font-style="normal" text-anchor="middle" fill="#05050c" textLength="11" lengthAdjust="spacingAndGlyphs" >19</text>
<text x="845.65" y="605.1" font-family="'Liberation Sans', sans-serif" font-size="9.8" font-weight="normal" font-style="normal" text-anchor="middle" fill="#05050c" textLength="11" lengthAdjust="spacingAndGlyphs" >20</text>
<text x="854.4" y="594.3" font-family="'Liberation Sans', sans-serif" font-size="9.8" font-weight="normal" font-style="normal" text-anchor="middle" fill="#05050c" textLength="11" lengthAdjust="spacingAndGlyphs" >21</text>
<text x="863.16" y="605.1" font-family="'Liberation Sans', sans-serif" font-size="9.8" font-weight="normal" font-style="normal" text-anchor="middle" fill="#05050c" textLength="11" lengthAdjust="spacingAndGlyphs" >22</text>
<text x="871.91" y="594.3" font-family="'Liberation Sans', sans-serif" font-size="9.8" font-weight="normal" font-style="normal" text-anchor="middle" fill="#05050c" textLength="11" lengthAdjust="spacingAndGlyphs" >23</text>
<text x="880.67" y="605.1" font-family="'Liberation Sans', sans-serif" font-size="9.8" font-weight="normal" font-style="normal" text-anchor="middle" fill="#05050c" textLength="11" lengthAdjust="spacingAndGlyphs" >24</text>
<text x="889.42" y="594.3" font-family="'Liberation Sans', sans-serif" font-size="9.8" font-weight="normal" font-style="normal" text-anchor="middle" fill="#05050c" textLength="11" lengthAdjust="spacingAndGlyphs" >25</text>
<text x="898.18" y="605.1" font-family="'Liberation Sans', sans-serif" font-size="9.8" font-weight="normal" font-style="normal" text-anchor="middle" fill="#05050c" textLength="11" lengthAdjust="spacingAndGlyphs" >26</text>
<text x="906.93" y="594.3" font-family="'Liberation Sans', sans-serif" font-size="9.8" font-weight="normal" font-style="normal" text-anchor="middle" fill="#05050c" textLength="11" lengthAdjust="spacingAndGlyphs" >27</text>
<text x="915.69" y="605.1" font-family="'Liberation Sans', sans-serif" font-size="9.8" font-weight="normal" font-style="normal" text-anchor="middle" fill="#05050c" textLength="11" lengthAdjust="spacingAndGlyphs" >28</text>
<text x="924.44" y="594.3" font-family="'Liberation Sans', sans-serif" font-size="9.8" font-weight="normal" font-style="normal" text-anchor="middle" fill="#05050c" textLength="11" lengthAdjust="spacingAndGlyphs" >29</text>
<text x="933.2" y="605.1" font-family="'Liberation Sans', sans-serif" font-size="9.8" font-weight="normal" font-style="normal" text-anchor="middle" fill="#05050c" textLength="11" lengthAdjust="spacingAndGlyphs" >30</text>
<polyline points="679.6,548.58 688.36,548.58 697.11,532.45 705.87,538.58 714.62,526.51 723.38,544.92 732.13,538.19 740.88,529.28 749.64,529.28 758.39,525.91 767.15,513.24 775.9,519.38 784.66,500.77 793.42,515.81 802.17,532.25 810.93,535.51 819.68,528.88 828.44,484.53 837.19,506.51 845.95,538.19 854.7,554.42 863.46,547.49 872.21,538.19 880.97,522.15 889.72,516.21 898.48,491.06 907.23,506.51 915.99,532.25 924.74,526.31 933.5,529.08" fill="none" stroke="#2277cc" stroke-width="1.15" stroke-linejoin="round" />
<polyline points="679.6,573.13 688.36,575.02 697.11,576.01 705.87,573.63 714.62,570.26 723.38,575.51 732.13,573.13 740.88,571.85 749.64,572.05 758.39,572.44 767.15,569.57 775.9,569.47 784.66,567.89 793.42,565.12 802.17,571.95 810.93,571.06 819.68,569.47 828.44,559.47 837.19,562.74 845.95,574.32 854.7,575.81 863.46,574.72 872.21,574.62 880.97,570.66 889.72,569.57 898.48,560.56 907.23,571.65 915.99,570.56 924.74,567.69 933.5,571.65" fill="none" stroke="#223018" stroke-width="1.05" stroke-linejoin="round" />
</svg></body></html>
